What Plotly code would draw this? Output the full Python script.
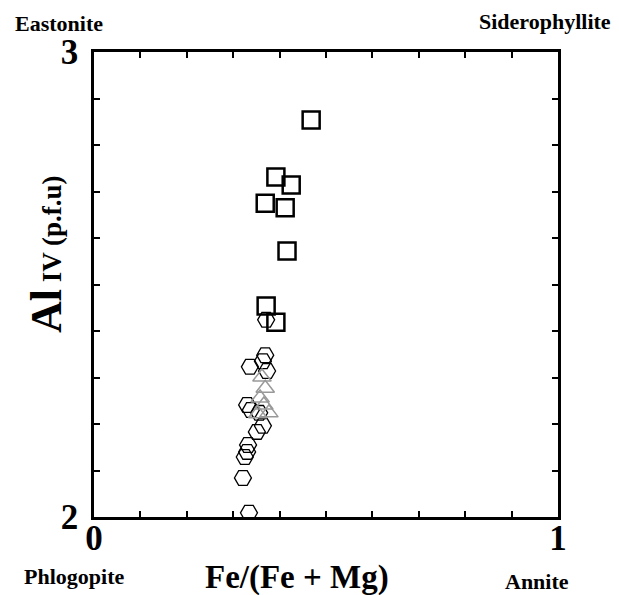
import plotly.graph_objects as go

# Data (Fe/(Fe+Mg), Al IV)
sq_x = [0.468, 0.392, 0.425, 0.369, 0.412, 0.416, 0.371, 0.392]
sq_y = [2.854, 2.731, 2.714, 2.675, 2.665, 2.572, 2.454, 2.419]

hex_x = [0.371, 0.369, 0.364, 0.336, 0.373, 0.330, 0.338, 0.356, 0.364, 0.351,
         0.332, 0.330, 0.325, 0.321, 0.334]
hex_y = [2.424, 2.348, 2.335, 2.323, 2.314, 2.241, 2.230, 2.224, 2.196, 2.183,
         2.155, 2.140, 2.129, 2.084, 2.009]

tri_x = [0.362, 0.369, 0.358, 0.366, 0.377, 0.353]
tri_y = [2.301, 2.277, 2.256, 2.241, 2.224, 2.222]

x_ticks = [i / 10 for i in range(11)]
x_ticktext = ["0"] + [""] * 9 + ["1"]
y_ticks = [2 + i / 10 for i in range(11)]
y_ticktext = ["2"] + [""] * 9 + ["3"]

SERIF = "Liberation Serif"

fig = go.Figure()
fig.add_trace(go.Scatter(
    x=hex_x, y=hex_y, mode="markers",
    marker=dict(symbol="hexagon2-open", size=17, color="black",
                line=dict(width=1.3, color="black")),
    showlegend=False))
fig.add_trace(go.Scatter(
    x=tri_x, y=tri_y, mode="markers",
    marker=dict(symbol="triangle-up-open", size=16, color="#999999",
                line=dict(width=1.5, color="#999999")),
    showlegend=False))
fig.add_trace(go.Scatter(
    x=sq_x, y=sq_y, mode="markers",
    marker=dict(symbol="square-open", size=17, color="black",
                line=dict(width=2.5, color="black")),
    showlegend=False))

axis_common = dict(
    showgrid=False, zeroline=False, showline=True, linewidth=2.5,
    linecolor="black", mirror="ticks", ticks="inside", ticklen=6,
    tickwidth=2, tickcolor="black",
    tickfont=dict(family=SERIF, size=35, color="black", weight="bold"),
)

fig.update_layout(
    width=619, height=595,
    margin=dict(l=86, r=69, t=44, b=86),
    paper_bgcolor="white", plot_bgcolor="white",
    xaxis=dict(range=[0, 1], tickvals=x_ticks, ticktext=x_ticktext,
               ticklabelstandoff=-12, **axis_common),
    yaxis=dict(range=[2, 3], tickvals=y_ticks, ticktext=y_ticktext,
               ticklabelstandoff=6, **axis_common),
)

def ann(text, x, y, size, angle=0):
    fig.add_annotation(text=text, x=x, y=y, xref="paper", yref="paper",
                       xanchor="center", yanchor="middle",
                       showarrow=False, textangle=angle,
                       font=dict(family=SERIF, size=size, color="black", weight="bold"))

ann("Eastonite", -0.075, 1.062, 22)
ann("Siderophyllite", 0.972, 1.065, 22)
ann("Phlogopite", -0.043, -0.127, 22)
ann("Annite", 0.955, -0.138, 22)
ann("Fe/(Fe + Mg)", 0.4375, -0.131, 33)
ann("Al<span style='font-size:27px'> IV (p.f.u)</span>", -0.101, 0.566, 44, angle=-90)

fig.write_html("out.html")
